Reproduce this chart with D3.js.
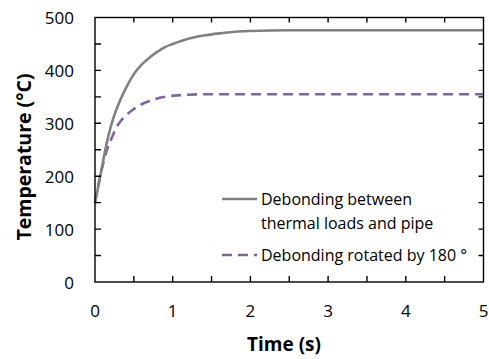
<!DOCTYPE html>
<html>
<head>
<meta charset="utf-8">
<script src="https://cdn.jsdelivr.net/npm/d3@7"></script>
<style>
  body { margin: 0; background: #fff; }
  svg { display: block; font-family: "Open Sans", sans-serif; }
</style>
</head>
<body>
<svg id="chart"></svg>
<script>
// values
const timeSolid = [0, 0.05, 0.1, 0.15, 0.2, 0.25, 0.3, 0.35, 0.4, 0.5, 0.6, 0.7, 0.8, 0.9, 1.0, 1.2, 1.4, 1.6, 1.8, 2.0, 2.5, 3, 4, 5];
const tempSolid = [150, 186, 225, 262, 292, 316, 335, 352, 367, 393, 411, 424, 435, 444, 450, 460, 466, 470, 473, 474.5, 476, 476, 476, 476];
const timeDashed = [0, 0.05, 0.1, 0.15, 0.2, 0.3, 0.4, 0.5, 0.6, 0.7, 0.8, 1.0, 1.2, 1.5, 2, 3, 4, 5];
const tempDashed = [150, 189, 221, 248, 267, 298, 315, 327, 336, 342, 347, 352, 354, 355, 355, 355, 355, 355];
const xTicks = [0, 1, 2, 3, 4, 5];
const yTicks = [0, 100, 200, 300, 400, 500];
const seriesNames = ["Debonding between|thermal loads and pipe", "Debonding rotated by 180 °"];

const W = 489, H = 359;
const margin = { top: 17.5, right: 5.5, bottom: 77, left: 95 };
const width = W - margin.left - margin.right,
      height = H - margin.top - margin.bottom;

const svg = d3.select("#chart").attr("width", W).attr("height", H);
const g = svg.append("g").attr("transform", `translate(${margin.left},${margin.top})`);

const x = d3.scaleLinear().domain([0, 5]).range([0, width]);
const y = d3.scaleLinear().domain([0, 500]).range([height, 0]);

// lines first, frame on top
const line = d3.line().x(d => x(d[0])).y(d => y(d[1])).curve(d3.curveMonotoneX);
const solid = timeSolid.map((t, i) => [t, tempSolid[i]]);
const dashed = timeDashed.map((t, i) => [t, tempDashed[i]]);

g.append("path").datum(dashed).attr("d", line)
  .attr("fill", "none").attr("stroke", "#8064a2").attr("stroke-width", 2.6)
  .attr("stroke-dasharray", "10,6");
g.append("path").datum(solid).attr("d", line)
  .attr("fill", "none").attr("stroke", "#808080").attr("stroke-width", 2.6);

// frame
g.append("rect").attr("width", width).attr("height", height)
  .attr("fill", "none").attr("stroke", "#000").attr("stroke-width", 1.4);

// inward ticks every 0.5 s / 50 degrees on all four sides
const minorX = d3.range(0.5, 5, 0.5), minorY = d3.range(50, 500, 50);
const tickPath = [];
minorX.forEach(d => {
  tickPath.push(`M${x(d)},${height}V${height - 6}`);
  tickPath.push(`M${x(d)},0V5`);
});
minorY.forEach(d => {
  tickPath.push(`M0,${y(d)}H6`);
  tickPath.push(`M${width},${y(d)}H${width - 5}`);
});
g.append("path").attr("d", tickPath.join(""))
  .attr("fill", "none").attr("stroke", "#000").attr("stroke-width", 1.4);

// tick labels
g.append("g").selectAll("text").data(xTicks).join("text")
  .attr("x", d => x(d)).attr("y", height + 35)
  .attr("text-anchor", "middle").attr("font-size", 17).attr("fill", "#000")
  .text(d => d);
g.append("g").selectAll("text").data(yTicks).join("text")
  .attr("x", -21).attr("y", d => y(d) + 6.5)
  .attr("text-anchor", "end").attr("font-size", 17).attr("fill", "#000")
  .text(d => d);

// axis titles
svg.append("text").attr("x", 284).attr("y", 351)
  .attr("text-anchor", "middle").attr("font-size", 19).attr("font-weight", "bold")
  .text("Time (s)");
svg.append("text").attr("transform", "translate(31,157) rotate(-90)")
  .attr("text-anchor", "middle").attr("font-size", 19.5).attr("font-weight", "bold")
  .text("Temperature (°C)");

// legend
const leg = svg.append("g");
leg.append("line").attr("x1", 222).attr("x2", 257).attr("y1", 199).attr("y2", 199)
  .attr("stroke", "#808080").attr("stroke-width", 2.6);
const lt = leg.append("text").attr("x", 261).attr("y", 205).attr("font-size", 16);
seriesNames[0].split("|").forEach((s, i) =>
  lt.append("tspan").attr("x", 261).attr("dy", i ? 24 : 0).text(s));
leg.append("line").attr("x1", 222).attr("x2", 257).attr("y1", 255).attr("y2", 255)
  .attr("stroke", "#8064a2").attr("stroke-width", 2.6).attr("stroke-dasharray", "10,6");
leg.append("text").attr("x", 261).attr("y", 261).attr("font-size", 16).text(seriesNames[1]);
</script>
</body>
</html>
